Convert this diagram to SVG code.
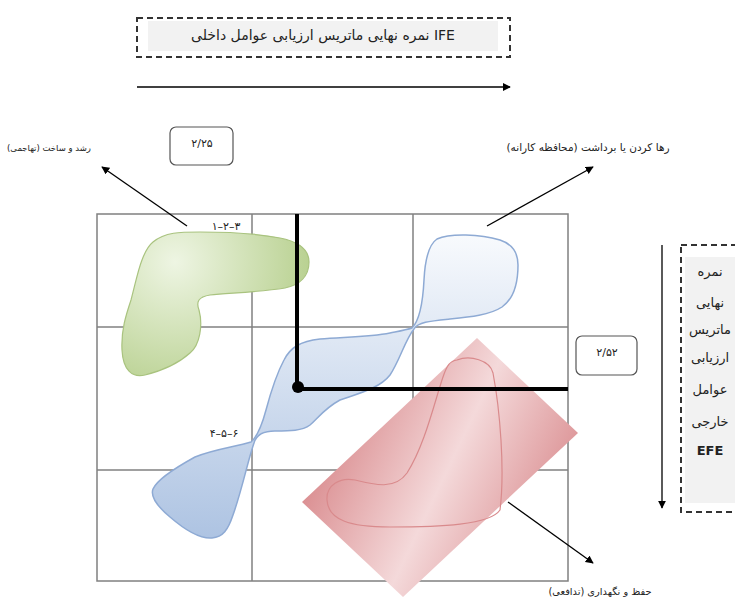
<svg xmlns="http://www.w3.org/2000/svg" width="735" height="601" viewBox="0 0 735 601">
<defs>
<style>
.fa{font-family:"DejaVu Sans","Noto Sans",sans-serif;fill:#222;direction:rtl;text-anchor:middle}
.num{font-family:"DejaVu Sans","Noto Sans",sans-serif;fill:#222;font-size:11px;text-anchor:middle;direction:ltr;unicode-bidi:bidi-override}
.grid{stroke:#808080;stroke-width:1.5;fill:none}
.conn{stroke:#000;stroke-width:1.3;fill:none;marker-end:url(#ah)}
.rbox{fill:#fff;stroke:#555;stroke-width:1.2}
.dash{fill:none;stroke:#333;stroke-width:2;stroke-dasharray:6 4}
</style>
<marker id="ah" viewBox="0 0 10 10" refX="9" refY="5" markerWidth="8" markerHeight="8" markerUnits="userSpaceOnUse" orient="auto">
<path d="M0,0 L10,5 L0,10 Z" fill="#000"/>
</marker>
<radialGradient id="gGreen" gradientUnits="userSpaceOnUse" cx="175" cy="262" r="150">
<stop offset="0" stop-color="#eef5e3"/>
<stop offset="1" stop-color="#b3cd88"/>
</radialGradient>
<linearGradient id="gBlue" gradientUnits="userSpaceOnUse" x1="0" y1="235" x2="0" y2="540">
<stop offset="0" stop-color="#f8fafd"/>
<stop offset="1" stop-color="#adc3e2"/>
</linearGradient>
<linearGradient id="gRed" gradientUnits="userSpaceOnUse" x1="330" y1="420" x2="560" y2="530">
<stop offset="0" stop-color="#d98a8d"/>
<stop offset="0.5" stop-color="#f4d9da"/>
<stop offset="1" stop-color="#d98a8d"/>
</linearGradient>
</defs>
<rect width="735" height="601" fill="#fff"/>

<g id="ife-title">
<rect class="dash" x="137" y="18" width="373" height="39"/>
<rect x="148" y="21" width="350" height="30" fill="#f2f2f2"/>
<text class="fa" x="323" y="40" font-size="14">IFE نمره نهایی ماتریس ارزیابی عوامل داخلی</text>
</g>

<g id="efe-title">
<rect class="dash" x="681" y="245" width="62" height="267"/>
<rect x="685" y="257" width="55" height="246" fill="#f2f2f2"/>
<text class="fa" x="710" y="276" font-size="13">نمره</text>
<text class="fa" x="710" y="307" font-size="13">نهایی</text>
<text class="fa" x="710" y="334" font-size="13">ماتریس</text>
<text class="fa" x="710" y="362" font-size="13">ارزیابی</text>
<text class="fa" x="710" y="394" font-size="13">عوامل</text>
<text class="fa" x="710" y="426" font-size="13">خارجی</text>
<text class="fa" x="710" y="455" font-size="13" font-weight="bold">EFE</text>
</g>

<g id="grid">
<rect class="grid" x="97" y="214" width="471" height="367"/>
<line class="grid" x1="252" y1="214" x2="252" y2="581"/>
<line class="grid" x1="413" y1="214" x2="413" y2="581"/>
<line class="grid" x1="97" y1="327" x2="568" y2="327"/>
<line class="grid" x1="97" y1="470" x2="568" y2="470"/>
</g>

<g id="green-zone">
<path d="M153,242 C165,232 180,232 200,232 C230,232 260,234 280,238 C300,242 309,250 309,262 C309,276 300,285 285,288 C260,292 230,293 210,295 C198,297 196,302 199,310 C203,325 200,345 190,353 C180,362 165,370 145,375 C132,378 123,370 122,350 C121,330 126,315 131,300 C135,285 138,270 142,260 C145,252 148,246 153,242 Z" fill="url(#gGreen)" stroke="#a9c37f" stroke-width="1.2"/>
</g>

<g id="blue-zone">
<path d="M412,328 C420,320 423,300 424,280 C425,260 428,245 437,239 C450,233 480,234 500,240 C512,244 518,252 518,265 C518,285 512,300 502,307 C490,315 470,317 450,319 C430,321 418,322 414,329 C405,340 400,360 390,375 C380,388 360,393 340,400 C325,408 318,418 310,425 C302,431 290,431 275,431 C262,431 256,436 254,443 C248,460 242,490 233,515 C228,530 223,537 212,538 C200,539 185,530 170,517 C158,507 150,497 153,489 C157,480 175,468 195,457 C215,449 235,447 251,442 C258,436 262,425 266,410 C270,395 276,375 284,360 C290,348 300,341 320,339 C345,337 370,337 390,333 C400,331 406,330 412,328 Z" fill="url(#gBlue)" stroke="#8eaad4" stroke-width="1.5"/>
</g>

<g id="red-zone">
<polygon points="477,338 578,433 403,597 302,502" fill="url(#gRed)"/>
<path d="M457,360 C470,355 490,360 493,373 C500,410 505,470 500,510 C490,525 440,527 390,527 C350,527 328,520 327,500 C326,485 340,477 355,480 C375,485 395,490 407,473 C425,445 435,400 443,377 C447,365 450,361 457,360 Z" fill="none" stroke="#d98a8c" stroke-width="1.2"/>
</g>

<g id="axes">
<line x1="297" y1="214" x2="297" y2="389" stroke="#000" stroke-width="4"/>
<line x1="297" y1="389" x2="568" y2="389" stroke="#000" stroke-width="4"/>
<circle cx="298" cy="387" r="6" fill="#000"/>
</g>

<g id="zone-labels">
<text class="num" x="226" y="230">۱–۲–۳</text>
<text class="num" x="224" y="437">۴–۵–۶</text>
</g>

<g id="box-225">
<rect class="rbox" x="170" y="127" width="63" height="38" rx="6"/>
<text class="num" x="202" y="147">۲/۲۵</text>
</g>
<g id="box-252">
<rect class="rbox" x="576" y="336" width="61" height="39" rx="6"/>
<text class="num" x="607" y="356">۲/۵۲</text>
</g>

<g id="label-growth"><text class="fa" x="49" y="151" font-size="8.5">رشد و ساخت (تهاجمی)</text></g>
<g id="label-harvest"><text class="fa" x="588" y="151" font-size="10.5">رها کردن یا برداشت (محافظه کارانه)</text></g>
<g id="label-defensive"><text class="fa" x="600" y="595" font-size="9.8">حفظ و نگهداری (تدافعی)</text></g>

<g id="connectors">
<line class="conn" x1="137" y1="87" x2="510" y2="87" stroke-width="1.5"/>
<line class="conn" x1="662" y1="245" x2="662" y2="508" stroke-width="1.5"/>
<line class="conn" x1="187" y1="226" x2="102" y2="167"/>
<line class="conn" x1="487" y1="226" x2="593" y2="167"/>
<line class="conn" x1="508" y1="502" x2="593" y2="563"/>
</g>
</svg>
